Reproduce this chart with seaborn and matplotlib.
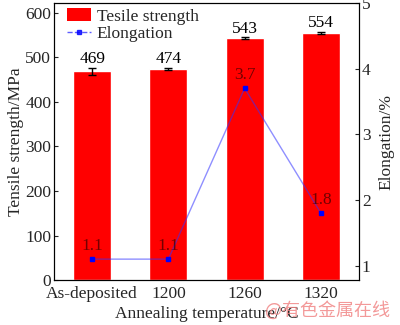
import matplotlib
matplotlib.use("Agg")
import matplotlib.pyplot as plt
import seaborn as sns
import pandas as pd
import numpy as np
from matplotlib.patches import Patch
from matplotlib.lines import Line2D

categories = ["As-deposited", "1200", "1260", "1320"]
tensile = [469, 474, 543, 554]
tensile_err = [8, 3, 1.5, 2]
elongation = [1.1, 1.1, 3.7, 1.8]

sns.set_theme(style="white")
plt.rcParams["font.family"] = ["Liberation Serif", "DejaVu Serif"]
FS = 12.5
plt.rcParams["font.size"] = FS

df = pd.DataFrame({"cat": categories, "ts": tensile, "el": elongation})

fig = plt.figure(figsize=(4.0, 3.25), dpi=100)
ax = fig.add_axes([0.135, 0.138, 0.7625, 0.853])

sns.barplot(data=df, x="cat", y="ts", color="#ff0000", width=0.5,
            saturation=1, ax=ax, zorder=2)
xpos = np.arange(len(categories))
ax.errorbar(xpos, tensile, yerr=tensile_err, fmt="none", ecolor="black",
            elinewidth=1, capsize=3, capthick=1, zorder=3)
for x, v, e in zip(xpos, tensile, tensile_err):
    ax.text(x, v + e + 2, f"{v}", ha="center", va="bottom", fontsize=FS, color="black")

ax.set_xlim(-0.5, 3.5)
ax.set_ylim(0, 622)
ax.set_yticks([0, 100, 200, 300, 400, 500, 600])
ax.set_xlabel("Annealing temperature/°C", fontsize=FS, labelpad=3)
ax.set_ylabel("Tensile strength/MPa", fontsize=FS, labelpad=1)
ax.tick_params(axis="y", direction="in", length=3, width=0.8, labelsize=FS, pad=2, left=True)
ax.tick_params(axis="x", length=0, labelsize=FS, pad=4)

ax2 = ax.twinx()
ax2.plot(xpos, elongation, color="#3333ff", alpha=0.55, lw=1.0, zorder=3)
ax2.plot(xpos, elongation, ls="none", marker="s", markersize=3.5,
         color="#0000ff", zorder=4)
for x, v in zip(xpos, elongation):
    ax2.text(x, v + 0.08, f"{v}", ha="center", va="bottom", fontsize=FS,
             color="black", alpha=0.55)
ax2.set_ylim(0.78, 5.0)
ax2.set_yticks([1, 2, 3, 4, 5])
ax2.set_ylabel("Elongation/%", fontsize=FS, labelpad=6)
ax2.tick_params(axis="y", direction="in", length=3, width=0.8, labelsize=FS, pad=2, right=True)
ax2.grid(False)
ax.grid(False)

for a in (ax, ax2):
    for s in a.spines.values():
        s.set_color("black")
        s.set_linewidth(0.8)

handles = [Patch(facecolor="#ff0000", edgecolor="none", label="Tesile strength"),
           Line2D([0], [0], color="#3333ff", alpha=0.8, lw=1, ls="--", marker="s",
                  markersize=3.5, markerfacecolor="#0000ff", markeredgecolor="#0000ff",
                  label="Elongation")]
ax.legend(handles=handles, loc="upper left", frameon=False, fontsize=FS,
          borderaxespad=0.0, handlelength=1.4, handletextpad=0.3, labelspacing=0.05,
          bbox_to_anchor=(0.02, 1.005))

fig.text(0.975, 0.015, "@有色金属在线", ha="right", va="bottom", fontsize=13,
         color="#f08080", alpha=0.8, family=["Noto Sans CJK SC", "DejaVu Sans"])

fig.savefig("out.png", dpi=100)
